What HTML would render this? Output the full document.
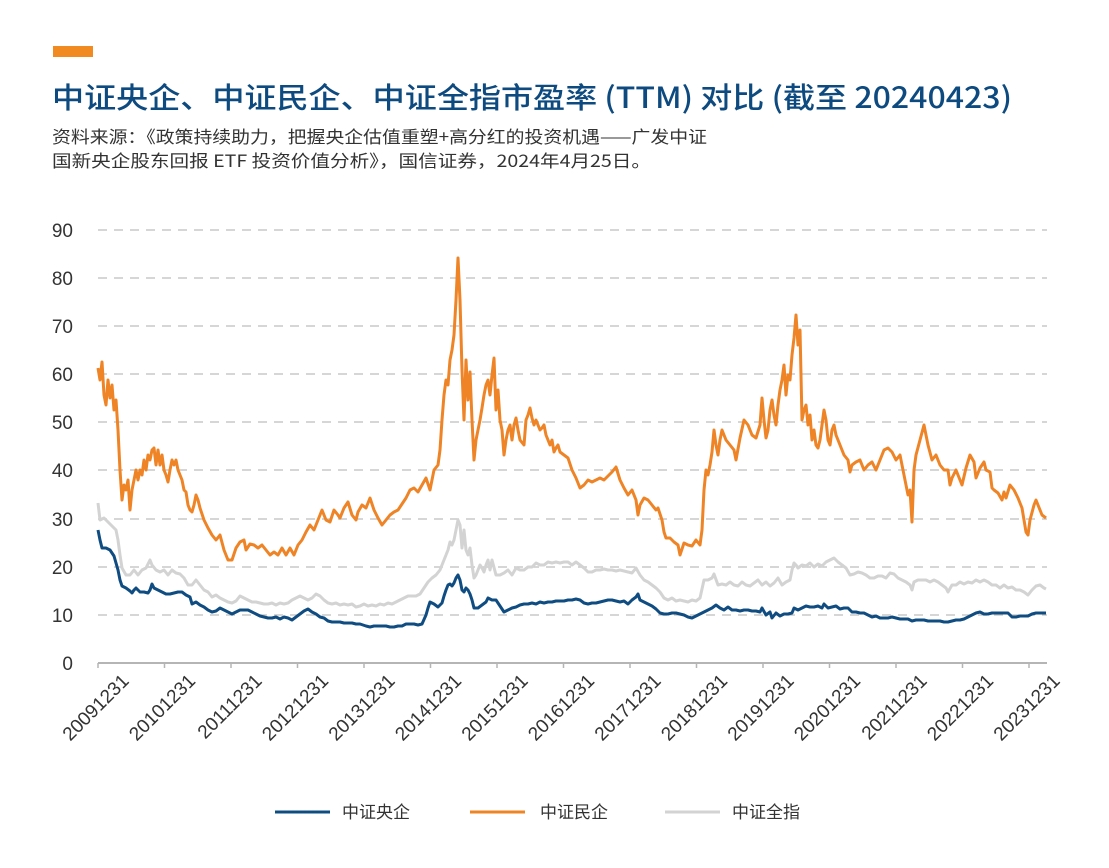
<!DOCTYPE html>
<html><head><meta charset="utf-8"><style>
body{margin:0;background:#fff;width:1109px;height:863px;overflow:hidden;font-family:"Liberation Sans","Noto Sans CJK SC",sans-serif}
</style></head><body>
<svg width="1109" height="863" xmlns="http://www.w3.org/2000/svg" font-family="Liberation Sans, Noto Sans CJK SC, sans-serif">
<rect x="53" y="46" width="40" height="11" fill="#f28a22"/>
<text x="52" y="108" font-size="29" fill="#0d4a7f" font-family="Noto Sans CJK SC, sans-serif" font-weight="500" textLength="960" lengthAdjust="spacingAndGlyphs">中证央企、中证民企、中证全指市盈率 (TTM) 对比 (截至 20240423)</text>
<text x="52" y="143" font-size="17" fill="#333" font-family="Noto Sans CJK SC, sans-serif" textLength="655" lengthAdjust="spacingAndGlyphs">资料来源：《政策持续助力，把握央企估值重塑+高分红的投资机遇——广发中证</text>
<text x="52" y="167" font-size="17" fill="#333" font-family="Noto Sans CJK SC, sans-serif" textLength="599" lengthAdjust="spacingAndGlyphs">国新央企股东回报 ETF 投资价值分析》，国信证券，2024年4月25日。</text>
<g stroke="#c8c8c8" stroke-width="1.5" stroke-dasharray="9,7">
<line x1="98" x2="1047" y1="230" y2="230"/><line x1="98" x2="1047" y1="278" y2="278"/><line x1="98" x2="1047" y1="326" y2="326"/><line x1="98" x2="1047" y1="374" y2="374"/><line x1="98" x2="1047" y1="422" y2="422"/><line x1="98" x2="1047" y1="470" y2="470"/><line x1="98" x2="1047" y1="519" y2="519"/><line x1="98" x2="1047" y1="567" y2="567"/><line x1="98" x2="1047" y1="615" y2="615"/>
</g>
<line x1="98" x2="1047" y1="663" y2="663" stroke="#b5b5b5" stroke-width="2"/>
<g stroke="#b5b5b5" stroke-width="1.5">
<line x1="98" x2="98" y1="663" y2="668"/><line x1="164.5" x2="164.5" y1="663" y2="668"/><line x1="231" x2="231" y1="663" y2="668"/><line x1="297.5" x2="297.5" y1="663" y2="668"/><line x1="364" x2="364" y1="663" y2="668"/><line x1="430.5" x2="430.5" y1="663" y2="668"/><line x1="497" x2="497" y1="663" y2="668"/><line x1="563.5" x2="563.5" y1="663" y2="668"/><line x1="630" x2="630" y1="663" y2="668"/><line x1="696.5" x2="696.5" y1="663" y2="668"/><line x1="763" x2="763" y1="663" y2="668"/><line x1="829.5" x2="829.5" y1="663" y2="668"/><line x1="896" x2="896" y1="663" y2="668"/><line x1="962.5" x2="962.5" y1="663" y2="668"/><line x1="1029" x2="1029" y1="663" y2="668"/>
</g>
<g font-size="19" fill="#333" text-anchor="end">
<text x="73" y="237">90</text><text x="73" y="285">80</text><text x="73" y="333">70</text><text x="73" y="381">60</text><text x="73" y="429">50</text><text x="73" y="477">40</text><text x="73" y="526">30</text><text x="73" y="574">20</text><text x="73" y="622">10</text><text x="73" y="670">0</text>
</g>
<g font-size="19" fill="#333" text-anchor="end">
<text transform="translate(130,682) rotate(-45)">20091231</text>
<text transform="translate(196.5,682) rotate(-45)">20101231</text>
<text transform="translate(263,682) rotate(-45)">20111231</text>
<text transform="translate(329.5,682) rotate(-45)">20121231</text>
<text transform="translate(396,682) rotate(-45)">20131231</text>
<text transform="translate(462.5,682) rotate(-45)">20141231</text>
<text transform="translate(529,682) rotate(-45)">20151231</text>
<text transform="translate(595.5,682) rotate(-45)">20161231</text>
<text transform="translate(662,682) rotate(-45)">20171231</text>
<text transform="translate(728.5,682) rotate(-45)">20181231</text>
<text transform="translate(795,682) rotate(-45)">20191231</text>
<text transform="translate(861.5,682) rotate(-45)">20201231</text>
<text transform="translate(928,682) rotate(-45)">20211231</text>
<text transform="translate(994.5,682) rotate(-45)">20221231</text>
<text transform="translate(1061,682) rotate(-45)">20231231</text>
</g>
<g fill="none" stroke-width="3" stroke-linejoin="round">
<polyline stroke="#d3d3d3" points="98,503 100,520 104,518 108,522 112,526 116,530 118,540 120,555 122,568 126,575 130,575 134,570 138,575 142,570 146,568 150,560 152,565 156,570 160,572 164,570 168,575 172,570 176,573 180,574 184,578 188,585 192,585 196,580 200,585 204,590 208,592 212,597 216,595 220,598 224,600 228,602 232,603 236,601 240,596 244,598 248,600 252,602 256,602 260,603 264,604 268,604 272,603 276,605 280,603 284,604 288,603 292,600 296,598 300,596 304,598 308,600 312,598 316,594 320,596 324,600 328,603 332,604 336,603 340,605 344,604 348,605 352,604 356,607 360,606 364,604 368,606 372,605 376,606 380,604 384,605 388,603 392,604 396,602 400,600 404,598 408,596 412,596 416,596 420,594 424,588 428,582 432,578 436,575 440,570 444,560 448,550 450,542 452,545 454,540 456,530 458,520 460,525 462,548 464,530 466,550 468,555 470,548 472,565 474,578 476,575 478,570 480,565 482,568 484,572 486,565 488,560 490,570 492,560 496,575 500,575 504,573 508,570 512,575 516,568 520,570 524,570 528,567 532,567 536,563 540,565 544,565 548,562 552,563 556,562 560,563 564,562 568,562 572,565 576,562 580,565 584,568 588,572 592,572 596,570 600,570 604,569 608,570 612,570 616,571 620,570 624,571 628,572 632,573 636,568 640,575 644,580 648,582 652,585 656,588 660,592 664,598 668,600 672,598 676,601 680,600 684,601 688,602 692,600 696,601 700,598 704,580 708,580 712,578 714,574 718,585 722,584 726,585 730,582 734,585 738,586 742,582 746,585 750,586 754,583 758,580 762,585 766,582 770,586 774,583 778,578 782,585 786,582 790,580 792,570 794,563 796,565 798,568 802,565 806,566 810,563 814,567 818,564 822,566 826,562 830,560 834,558 838,562 842,565 846,568 850,575 854,574 858,572 862,573 866,575 870,578 874,578 878,576 882,576 886,578 890,573 894,574 898,578 902,580 906,582 910,585 912,590 914,582 918,580 922,580 926,580 930,582 934,580 938,582 942,585 946,588 948,592 952,585 956,585 960,582 964,584 968,582 972,583 976,580 980,582 984,580 988,582 992,585 996,585 1000,588 1004,585 1008,588 1012,587 1016,590 1020,590 1024,592 1028,595 1032,590 1036,586 1040,585 1044,588 1046,589"/>
<polyline stroke="#ee8426" points="98,368 100,380 102,362 104,395 106,405 108,380 110,398 112,385 114,410 116,400 118,430 120,470 122,500 124,485 126,490 128,480 130,510 132,490 134,480 136,470 138,480 140,470 142,475 144,460 146,470 148,455 150,460 152,450 154,448 156,465 158,450 160,465 162,455 164,470 166,475 168,482 170,470 172,460 174,465 176,460 178,470 180,475 182,480 184,490 186,492 188,505 190,510 192,512 194,505 196,495 198,500 200,508 204,520 208,528 212,535 216,540 220,535 224,550 228,560 232,560 236,548 240,542 244,540 246,550 250,544 254,545 258,548 262,545 266,550 270,555 274,552 278,555 282,548 286,555 290,548 294,555 298,545 302,540 306,532 310,525 314,530 318,520 322,510 324,515 326,520 330,522 334,510 338,515 340,518 344,508 348,502 352,515 356,520 358,512 362,505 366,508 370,498 374,510 378,518 382,525 386,520 390,515 394,512 398,510 402,504 406,498 410,490 414,488 418,492 422,485 426,478 430,490 434,470 438,465 440,450 442,420 444,395 446,380 448,385 450,360 452,350 454,335 456,300 458,258 460,300 462,370 464,420 466,360 468,400 470,372 472,420 474,460 476,440 478,430 480,420 482,408 484,395 486,385 488,380 490,395 492,375 494,358 496,410 498,390 500,420 502,430 504,455 506,440 508,430 510,425 512,440 514,425 516,418 518,430 520,440 524,445 526,420 528,415 530,408 532,418 534,425 536,420 538,425 540,430 542,428 544,425 546,435 548,440 550,445 552,440 554,452 556,448 558,445 560,452 564,455 568,458 572,470 576,478 580,488 584,485 588,480 592,482 596,480 600,478 604,480 608,476 612,472 616,467 620,480 624,488 628,495 632,490 636,500 638,515 640,505 644,498 648,500 652,505 656,510 658,508 662,520 664,532 666,538 670,538 674,542 678,545 680,555 684,543 688,545 692,546 696,540 700,545 702,530 704,490 706,470 708,475 710,465 712,452 714,430 716,445 718,455 720,440 722,430 726,440 730,445 734,450 736,460 740,438 744,420 748,425 752,435 756,438 760,425 762,398 764,420 766,438 768,430 770,410 772,400 774,415 776,425 778,405 780,390 782,380 784,365 786,395 788,375 790,380 792,355 794,338 796,315 798,345 800,330 802,420 804,410 806,405 808,425 810,415 812,440 814,430 816,445 818,448 820,440 822,425 824,410 826,420 828,440 830,445 832,430 834,425 836,435 840,445 844,455 848,460 850,472 852,465 856,462 860,460 864,470 868,465 872,462 876,470 880,460 884,450 888,448 892,452 896,460 900,455 904,475 908,495 910,490 912,522 914,470 916,455 920,440 924,425 928,445 932,460 936,455 940,465 944,470 948,470 950,485 952,478 956,470 960,480 962,485 966,468 970,455 974,462 976,478 980,468 984,462 986,470 990,472 992,488 994,490 998,493 1002,500 1004,492 1006,498 1010,485 1014,490 1018,498 1022,508 1024,520 1026,532 1028,535 1030,520 1034,505 1036,500 1038,505 1042,515 1046,518"/>
<polyline stroke="#0f4c81" points="98,530 100,540 102,548 106,548 110,550 114,556 118,570 120,580 122,586 126,588 130,591 132,593 134,590 136,588 140,592 144,592 148,593 150,590 152,584 154,588 158,590 162,592 166,594 170,594 174,593 178,592 182,592 186,595 190,597 192,604 196,602 200,605 204,607 208,610 212,612 216,611 220,608 224,610 228,612 232,614 236,612 240,610 244,610 248,610 252,612 256,614 260,616 264,617 268,618 272,618 276,617 280,619 284,617 288,618 292,620 296,617 300,614 304,611 308,609 312,612 316,614 320,617 324,618 328,621 332,622 336,622 340,622 344,623 348,623 352,623 356,624 360,624 366,626 370,627 374,626 378,626 382,626 386,626 390,627 394,627 398,626 402,626 406,624 410,624 414,624 418,625 422,624 426,615 428,608 430,602 434,604 438,607 442,603 444,596 446,590 448,585 450,584 452,586 454,583 456,578 458,575 460,580 462,590 464,592 466,588 468,590 470,594 472,600 474,608 478,608 482,605 486,602 488,598 492,600 496,600 500,606 504,612 508,610 512,608 516,607 520,605 524,604 528,604 532,603 536,604 540,602 544,603 548,602 552,602 556,601 560,601 564,601 568,600 572,600 576,599 580,600 584,603 588,604 592,603 596,603 600,602 604,601 608,600 612,600 616,601 620,602 624,601 628,604 632,600 636,597 638,594 640,600 644,602 648,604 652,606 656,609 660,613 664,614 668,614 672,613 676,613 680,614 684,615 688,617 692,618 696,616 700,614 704,612 708,610 712,608 716,605 720,608 724,610 728,607 732,610 736,610 740,611 744,610 748,610 752,611 756,611 760,612 762,608 766,615 770,612 772,618 776,613 780,616 784,614 788,614 792,613 794,608 798,610 802,608 806,606 810,607 814,607 818,606 822,608 824,604 828,608 832,607 836,606 840,609 844,608 848,608 852,612 856,612 860,613 864,613 868,615 872,617 876,616 880,618 884,618 888,618 892,617 896,618 900,619 904,619 908,619 912,621 916,620 920,620 924,620 928,621 932,621 936,621 940,621 944,622 948,622 952,621 956,620 960,620 964,619 968,617 972,615 976,613 980,612 984,614 988,614 992,613 996,613 1000,613 1004,613 1008,613 1012,617 1016,617 1020,616 1024,616 1028,616 1032,614 1036,613 1040,613 1046,613"/>
</g>
<line x1="275" x2="330" y1="812" y2="812" stroke="#0f4c81" stroke-width="3"/>
<text x="342" y="818" font-size="17" fill="#333">中证央企</text>
<line x1="470" x2="525" y1="812" y2="812" stroke="#ee8426" stroke-width="3"/>
<text x="540" y="818" font-size="17" fill="#333">中证民企</text>
<line x1="665" x2="720" y1="812" y2="812" stroke="#d3d3d3" stroke-width="3"/>
<text x="732" y="818" font-size="17" fill="#333">中证全指</text>
</svg>
</body></html>
